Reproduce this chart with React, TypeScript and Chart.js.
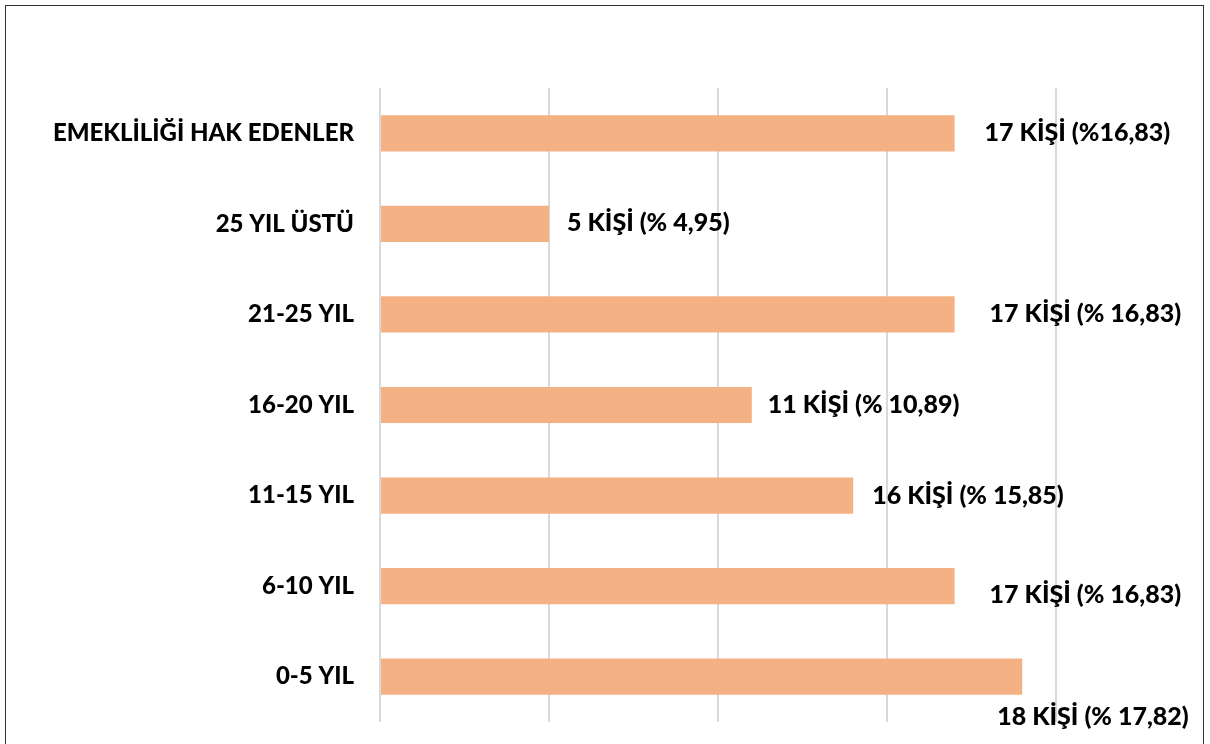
import React, { useEffect, useRef } from "react";
import { Chart, registerables } from "chart.js";

Chart.register(...registerables);

const categories = [
  "EMEKLİLİĞİ HAK EDENLER",
  "25 YIL ÜSTÜ",
  "21-25 YIL",
  "16-20 YIL",
  "11-15 YIL",
  "6-10 YIL",
  "0-5 YIL",
];
const barValues = [17, 5, 17, 11, 14, 17, 19];
const dataLabels = [
  "17 KİŞİ (%16,83)",
  "5 KİŞİ (% 4,95)",
  "17 KİŞİ (% 16,83)",
  "11 KİŞİ (% 10,89)",
  "16 KİŞİ (% 15,85)",
  "17 KİŞİ (% 16,83)",
  "18 KİŞİ (% 17,82)",
];
const labelDx = [30, 18, 35, 16, 19, 35, -25];
const labelDy = [0, -1, 0, 0, 0, 9, 40];

const FONT = "Lato";
const FONT_SIZE = 24;
const LABEL_FONT_SIZE = 25;
const WEIGHT = 900;

const labelPlugin = {
  id: "barLabels",
  afterDatasetsDraw(chart: any) {
    const ctx = chart.ctx;
    const meta = chart.getDatasetMeta(0);
    ctx.save();
    ctx.font = `${WEIGHT} ${LABEL_FONT_SIZE}px ${FONT}`;
    ctx.fillStyle = "#000000";
    ctx.textAlign = "left";
    ctx.textBaseline = "middle";
    meta.data.forEach((bar: any, i: number) => {
      ctx.fillText(dataLabels[i], bar.x + labelDx[i], bar.y + labelDy[i]);
    });
    ctx.restore();
  },
};

export default function App() {
  const ref = useRef<HTMLCanvasElement>(null);
  useEffect(() => {
    document.body.style.margin = "0";
    const chart = new Chart(ref.current!, {
      type: "bar",
      data: {
        labels: categories,
        datasets: [
          {
            data: barValues,
            backgroundColor: "#F4B183",
            borderWidth: 0,
            categoryPercentage: 1,
            barPercentage: 0.4,
          },
        ],
      },
      options: {
        indexAxis: "y",
        animation: false,
        responsive: false,
        maintainAspectRatio: false,
        layout: { padding: { left: 0, right: 154, top: 88, bottom: 22 } },
        plugins: { legend: { display: false }, tooltip: { enabled: false } },
        scales: {
          x: {
            min: 0,
            max: 20,
            ticks: { display: false, stepSize: 5 },
            grid: { color: "#D9D9D9", lineWidth: 2, drawTicks: false },
            border: { display: false },
            afterFit: (s: any) => {
              s.height = 0;
              s.paddingLeft = 0;
              s.paddingRight = 0;
            },
          },
          y: {
            ticks: {
              color: "#000000",
              font: { family: FONT, size: FONT_SIZE, weight: WEIGHT },
              padding: 26,
            },
            grid: { display: false, drawTicks: false },
            border: { display: false },
            afterFit: (s: any) => {
              s.width = 380;
              s.paddingTop = 0;
              s.paddingBottom = 0;
            },
          },
        },
      },
      plugins: [labelPlugin],
    });
    return () => chart.destroy();
  }, []);
  return (
    <div style={{ position: "fixed", left: 0, top: 0, width: 1210, height: 744, background: "#fff", overflow: "hidden" }}>
      <canvas ref={ref} width={1210} height={744} style={{ position: "absolute", left: 0, top: 0 }} />
      <div
        style={{
          position: "absolute",
          left: 5,
          top: 5,
          width: 1199,
          height: 800,
          border: "1.5px solid #333",
          boxSizing: "border-box",
          pointerEvents: "none",
        }}
      />
    </div>
  );
}
